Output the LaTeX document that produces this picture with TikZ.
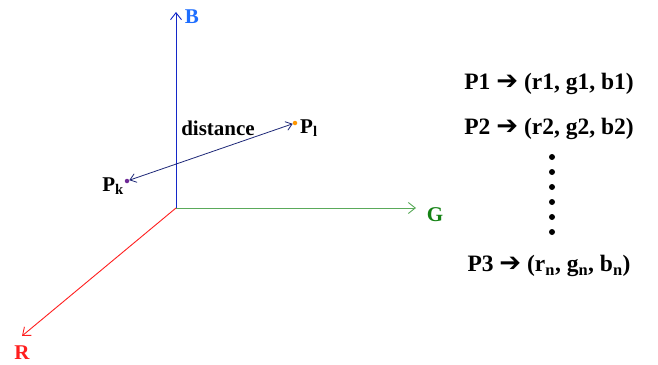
\documentclass[tikz,border=0pt]{standalone}
\usepackage{fontspec}
\setmainfont{Liberation Serif}
\newfontfamily\symfont{DejaVu Sans}
\usetikzlibrary{arrows.meta}
\definecolor{axB}{RGB}{20,40,200}
\definecolor{labB}{RGB}{30,110,255}
\definecolor{axG}{RGB}{90,170,90}
\definecolor{labG}{RGB}{20,130,20}
\definecolor{axR}{RGB}{255,30,30}
\definecolor{distc}{RGB}{30,40,120}
\definecolor{pkc}{RGB}{110,40,150}
\definecolor{plc}{RGB}{255,150,0}
\tikzset{
  axis/.style={line width=0.9pt,-{Straight Barb[length=7pt,width=11pt]}},
  lab/.style={font=\fontsize{21}{23}\selectfont\bfseries, inner sep=0pt},
  maplab/.style={font=\fontsize{23.5}{26}\selectfont\bfseries, inner sep=0pt},
  bigdot/.style={circle, fill=black, inner sep=0pt, minimum size=6pt},
  pt/.style={circle, inner sep=0pt, minimum size=4.5pt},
}
\newcommand{\harr}{{\symfont\bfseries\fontsize{26}{26}\selectfont ➔}}
\begin{document}
\begin{tikzpicture}[x=1pt,y=-1pt]
\useasboundingbox (0,0) rectangle (658,364);
\coordinate (O) at (176,208);
\coordinate (Bend) at (176,12);
\coordinate (Gend) at (416,208);
\coordinate (Rend) at (22,336);
\draw[axis, axG] (O) -- (Gend);
\draw[axis, axR] (O) -- (Rend);
\draw[axis, axB] (O) -- (Bend);
\node[lab, text=labB] (lB) at (192,17) {B};
\node[lab, text=labG] (lG) at (435,215) {G};
\node[lab, text=axR] (lR) at (22,353) {R};
\node[pt, fill=pkc] (pk) at (127,181) {};
\node[pt, fill=plc] (pl) at (295,123) {};
\draw[distc, line width=0.8pt, {Straight Barb[length=6pt,width=9pt]}-{Straight Barb[length=6pt,width=9pt]}] (pk) -- (pl);
\node[lab, anchor=east] (lpk) at (124,186) {P\textsubscript{k}};
\node[lab, anchor=west] (lpl) at (300,128) {P\textsubscript{l}};
\node[lab] (dist) at (218,128) {distance};
\node[maplab] (m1) at (549,84) {P1 \harr\ (r1, g1, b1)};
\node[maplab] (m2) at (549,129) {P2 \harr\ (r2, g2, b2)};
\node[maplab] (m3) at (549,266) {P3 \harr\ (r\textsubscript{n}, g\textsubscript{n}, b\textsubscript{n})};
\foreach \y [count=\i] in {157,172,187,202,217,232} \node[bigdot] (d\i) at (552,\y) {};
\end{tikzpicture}
\end{document}
